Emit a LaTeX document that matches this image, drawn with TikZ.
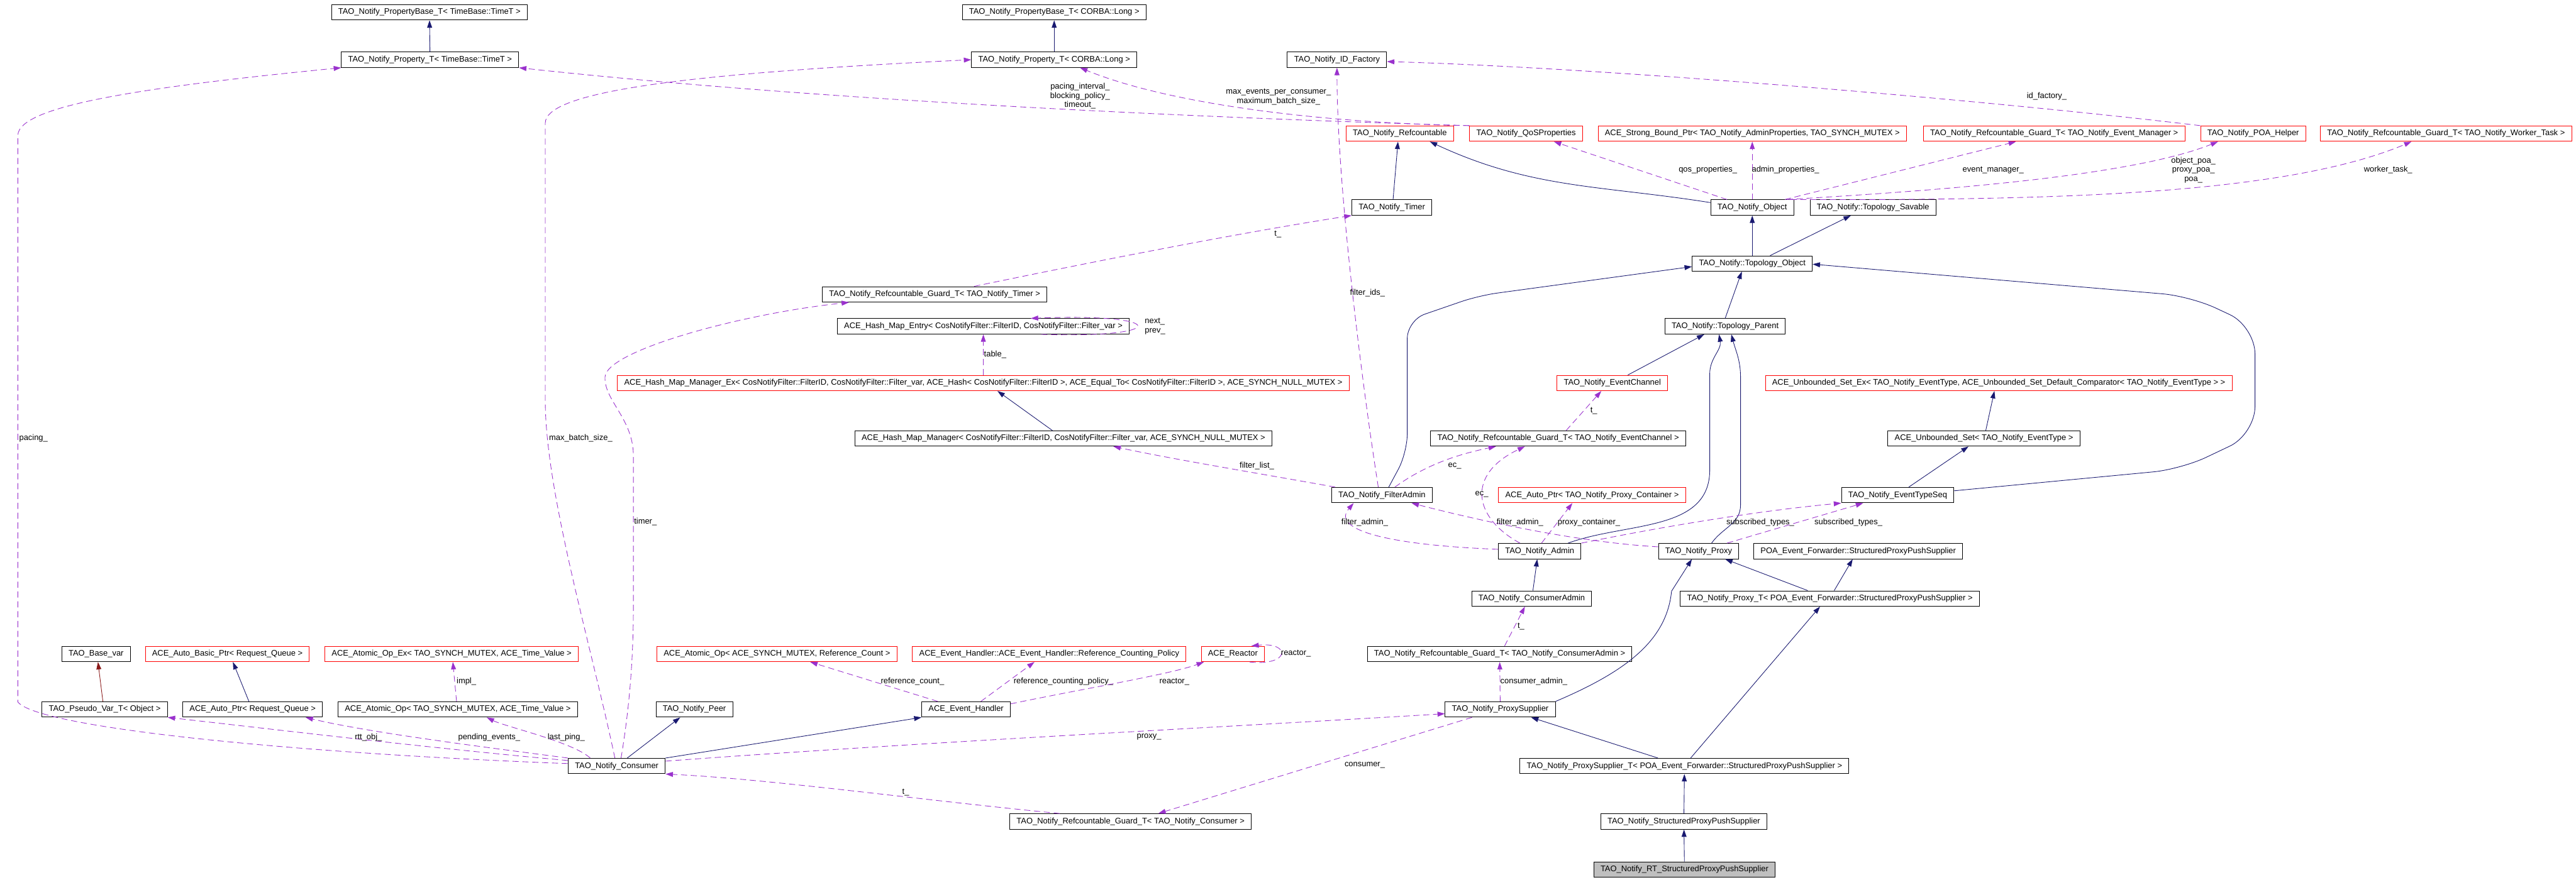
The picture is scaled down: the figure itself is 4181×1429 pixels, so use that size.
\documentclass[tikz,border=0pt]{standalone}
\usepackage{fontspec}
\setmainfont{Liberation Sans}
\usetikzlibrary{arrows.meta}
\definecolor{navyedge}{RGB}{25,25,112}
\definecolor{useedge}{RGB}{154,50,205}
\definecolor{privedge}{RGB}{139,26,26}
\newcommand{\dxfont}{\fontsize{13.2}{15}\selectfont}

\begin{document}
\begin{tikzpicture}[x=1pt, y=-1pt,
  cls/.style={draw=black, line width=1pt, fill=white, minimum height=25pt, inner xsep=11pt, inner ysep=0pt, font=\dxfont},
  undoc/.style={cls, draw=red},
  focus/.style={cls, fill=gray!50},
  inh/.style={draw=navyedge, line width=0.9pt, -{Triangle[length=12pt,width=8pt]}},
  priv/.style={inh, draw=privedge},
  use/.style={draw=useedge, line width=0.9pt, dash pattern=on 10pt off 6pt, -{Triangle[length=12pt,width=8pt]}},
  lbl/.style={font=\dxfont, inner sep=0pt, align=center}]
  \useasboundingbox (0,0) rectangle (4181,1429);

  % Top rows: properties, factory, object members
  \node[cls] (PBtime) at (697,20) {TAO\_Notify\_PropertyBase\_T< TimeBase::TimeT >};
  \node[cls] (Ptime) at (698,97) {TAO\_Notify\_Property\_T< TimeBase::TimeT >};
  \node[cls] (PBlong) at (1711,20) {TAO\_Notify\_PropertyBase\_T< CORBA::Long >};
  \node[cls] (Plong) at (1711,97) {TAO\_Notify\_Property\_T< CORBA::Long >};
  \node[cls] (IDFactory) at (2170,97) {TAO\_Notify\_ID\_Factory};
  \node[undoc] (Refcountable) at (2272,217) {TAO\_Notify\_Refcountable};
  \node[undoc] (QoS) at (2477,217) {TAO\_Notify\_QoSProperties};
  \node[undoc] (StrongBound) at (2844,217) {ACE\_Strong\_Bound\_Ptr< TAO\_Notify\_AdminProperties, TAO\_SYNCH\_MUTEX >};
  \node[undoc] (GuardEM) at (3334,217) {TAO\_Notify\_Refcountable\_Guard\_T< TAO\_Notify\_Event\_Manager >};
  \node[undoc] (POAHelper) at (3657,217) {TAO\_Notify\_POA\_Helper};
  \node[undoc] (GuardWT) at (3970,217) {TAO\_Notify\_Refcountable\_Guard\_T< TAO\_Notify\_Worker\_Task >};
  \node[cls] (Timer) at (2259,337) {TAO\_Notify\_Timer};
  \node[cls] (Object) at (2844,337) {TAO\_Notify\_Object};
  \node[cls] (Savable) at (3040,337) {TAO\_Notify::Topology\_Savable};
  \node[cls] (TopoObject) at (2844,428) {TAO\_Notify::Topology\_Object};

  % Middle rows: hash maps, topology, admins
  \node[cls] (GuardTimer) at (1517,478) {TAO\_Notify\_Refcountable\_Guard\_T< TAO\_Notify\_Timer >};
  \node[cls] (HMEntry) at (1596,530) {ACE\_Hash\_Map\_Entry< CosNotifyFilter::FilterID, CosNotifyFilter::Filter\_var >};
  \node[cls] (TopoParent) at (2800,530) {TAO\_Notify::Topology\_Parent};
  \node[undoc] (HMEx) at (1596,622) {ACE\_Hash\_Map\_Manager\_Ex< CosNotifyFilter::FilterID, CosNotifyFilter::Filter\_var, ACE\_Hash< CosNotifyFilter::FilterID >, ACE\_Equal\_To< CosNotifyFilter::FilterID >, ACE\_SYNCH\_NULL\_MUTEX >};
  \node[undoc] (EventChannel) at (2617,622) {TAO\_Notify\_EventChannel};
  \node[undoc] (USetEx) at (3244,622) {ACE\_Unbounded\_Set\_Ex< TAO\_Notify\_EventType, ACE\_Unbounded\_Set\_Default\_Comparator< TAO\_Notify\_EventType > >};
  \node[cls] (HMMgr) at (1726,712) {ACE\_Hash\_Map\_Manager< CosNotifyFilter::FilterID, CosNotifyFilter::Filter\_var, ACE\_SYNCH\_NULL\_MUTEX >};
  \node[cls] (GuardEC) at (2529,712) {TAO\_Notify\_Refcountable\_Guard\_T< TAO\_Notify\_EventChannel >};
  \node[cls] (USet) at (3220,712) {ACE\_Unbounded\_Set< TAO\_Notify\_EventType >};
  \node[cls] (FilterAdmin) at (2243,804) {TAO\_Notify\_FilterAdmin};
  \node[undoc] (ProxyCont) at (2584,804) {ACE\_Auto\_Ptr< TAO\_Notify\_Proxy\_Container >};
  \node[cls] (EventTypeSeq) at (3080,804) {TAO\_Notify\_EventTypeSeq};
  \node[cls] (Admin) at (2499,895) {TAO\_Notify\_Admin};
  \node[cls] (Proxy) at (2757,895) {TAO\_Notify\_Proxy};
  \node[cls] (POASPPS) at (3016,895) {POA\_Event\_Forwarder::StructuredProxyPushSupplier};
  \node[cls] (ConsumerAdmin) at (2486,972) {TAO\_Notify\_ConsumerAdmin};
  \node[cls] (ProxyT) at (2970,972) {TAO\_Notify\_Proxy\_T< POA\_Event\_Forwarder::StructuredProxyPushSupplier >};

  % Bottom rows: consumer side and supplier chain
  \node[cls] (BaseVar) at (156,1062) {TAO\_Base\_var};
  \node[undoc] (AutoBasic) at (369,1062) {ACE\_Auto\_Basic\_Ptr< Request\_Queue >};
  \node[undoc] (AtomicEx) at (733,1062) {ACE\_Atomic\_Op\_Ex< TAO\_SYNCH\_MUTEX, ACE\_Time\_Value >};
  \node[undoc] (AtomicRC) at (1261,1062) {ACE\_Atomic\_Op< ACE\_SYNCH\_MUTEX, Reference\_Count >};
  \node[undoc] (RCP) at (1703,1062) {ACE\_Event\_Handler::ACE\_Event\_Handler::Reference\_Counting\_Policy};
  \node[undoc] (Reactor) at (2001,1062) {ACE\_Reactor};
  \node[cls] (GuardCA) at (2434,1062) {TAO\_Notify\_Refcountable\_Guard\_T< TAO\_Notify\_ConsumerAdmin >};
  \node[cls] (PseudoVar) at (170,1152) {TAO\_Pseudo\_Var\_T< Object >};
  \node[cls] (AutoPtr) at (410,1152) {ACE\_Auto\_Ptr< Request\_Queue >};
  \node[cls] (AtomicOp) at (743,1152) {ACE\_Atomic\_Op< TAO\_SYNCH\_MUTEX, ACE\_Time\_Value >};
  \node[cls] (Peer) at (1127,1152) {TAO\_Notify\_Peer};
  \node[cls] (EH) at (1568,1152) {ACE\_Event\_Handler};
  \node[cls] (ProxySupplier) at (2435,1152) {TAO\_Notify\_ProxySupplier};
  \node[cls] (Consumer) at (1001,1244) {TAO\_Notify\_Consumer};
  \node[cls] (PST) at (2734,1244) {TAO\_Notify\_ProxySupplier\_T< POA\_Event\_Forwarder::StructuredProxyPushSupplier >};
  \node[cls] (GuardConsumer) at (1835,1334) {TAO\_Notify\_Refcountable\_Guard\_T< TAO\_Notify\_Consumer >};
  \node[cls] (SPPS) at (2733,1334) {TAO\_Notify\_StructuredProxyPushSupplier};
  \node[focus] (RTSPPS) at (2734,1412) {TAO\_Notify\_RT\_StructuredProxyPushSupplier};

  % Inheritance
  \draw[inh] (Ptime) -- (PBtime);
  \draw[inh] (Plong) -- (PBlong);
  \draw[inh] ([xshift=2pt]Timer.north) -- ([xshift=-3pt]Refcountable.south);
  \draw[inh] ([yshift=8pt]Object.west) to[out=171,in=-25] ([xshift=-39pt]Refcountable.south east);
  \draw[inh] (TopoObject) -- (Object);
  \draw[inh] ([xshift=29pt]TopoObject.north) -- ([xshift=-36pt]Savable.south);
  \draw[inh] (TopoParent.north) -- ([xshift=-17pt]TopoObject.south);
  \draw[inh] ([xshift=25pt]EventChannel.north) -- ([xshift=-34pt]TopoParent.south);
  \draw[inh] ([xshift=46pt]Admin.north) to[out=20,in=-90] (2775,763) -- (2775,607) to[out=90,in=-80] ([xshift=-10pt]TopoParent.south);
  \draw[inh] ([xshift=21pt]Proxy.north) to[out=55,in=-90] (2825,820) -- (2825,613) to[out=90,in=-75] ([xshift=10pt]TopoParent.south);
  \draw[inh, rounded corners=30pt] ([xshift=11pt]FilterAdmin.north) -- (2284,735) -- (2284,520) -- (2400,480) -- ([yshift=-5pt]TopoObject.west);
  \draw[inh, rounded corners=45pt] ([yshift=7pt]EventTypeSeq.east) -- (3540,762) -- (3660,705) -- (3660,530) -- (3555,481) -- ([yshift=-1pt]TopoObject.east);
  \draw[inh] ([xshift=18pt]EventTypeSeq.north) -- ([xshift=-25pt]USet.south);
  \draw[inh] ([xshift=3pt]USet.north) -- ([xshift=-7pt]USetEx.south);
  \draw[inh] ([xshift=-18pt]HMMgr.north) -- ([xshift=23pt]HMEx.south);
  \draw[inh] ([xshift=2pt]ConsumerAdmin.north) -- ([xshift=-4pt]Admin.south);
  \draw[inh] (ProxySupplier.north east) .. controls (2640,1090) and (2705,1040) .. (2713,960) -- ([xshift=-11pt]Proxy.south);
  \draw[inh] ([xshift=-36pt]ProxyT.north) -- ([xshift=43pt]Proxy.south);
  \draw[inh] ([xshift=7pt]ProxyT.north) -- ([xshift=-9pt]POASPPS.south);
  \draw[inh] ([xshift=-43pt]PST.north) -- ([xshift=50pt]ProxySupplier.south);
  \draw[inh] ([xshift=10pt]PST.north) -- ([xshift=-16pt]ProxyT.south);
  \draw[inh] (SPPS) -- (PST);
  \draw[inh] (RTSPPS) -- (SPPS);
  \draw[inh] ([xshift=-6pt]AutoPtr.north) -- ([xshift=9pt]AutoBasic.south);
  \draw[priv] ([xshift=-3pt]PseudoVar.north) -- ([xshift=3pt]BaseVar.south);
  \draw[inh] ([xshift=17pt]Consumer.north) -- ([xshift=-23pt]Peer.south);
  \draw[inh] (Consumer.north east) -- (EH.south west);

  % Usage: consumer members
  \draw[use] ([yshift=4pt]Consumer.west) .. controls (450,1222) and (60,1180) .. (29,1140) -- (29,220) .. controls (29,170) and (250,140) .. (Ptime.south west);
  \node[lbl, anchor=west] (lPacing) at (31,712) {pacing\_};
  \draw[use] ([xshift=-3pt]Consumer.north) .. controls (960,1050) and (885,800) .. (885,650) -- (885,200) .. controls (885,150) and (1100,120) .. (Plong.west);
  \node[lbl, anchor=west] (lMaxBatch) at (891,712) {max\_batch\_size\_};
  \draw[use] ([xshift=7pt]Consumer.north) .. controls (1030,1100) and (1028,1000) .. (1028,950) -- (1028,740) .. controls (1028,680) and (980,650) .. (982,612) .. controls (984,570) and (1200,510) .. ([xshift=-139pt]GuardTimer.south);
  \node[lbl, anchor=west] (lTimerM) at (1029,847) {timer\_};
  \draw[use] ([xshift=64pt]GuardTimer.north) .. controls (1750,430) and (2000,380) .. (Timer.south west);
  \node[lbl] (lTTimer) at (2074,380) {t\_};
  \draw[use] ([yshift=9pt]Consumer.west) .. controls (700,1215) and (450,1185) .. (PseudoVar.south east);
  \node[lbl] (lRtt) at (598,1197) {rtt\_obj\_};
  \draw[use] (Consumer.north west) .. controls (800,1215) and (600,1190) .. ([xshift=86pt]AutoPtr.south);
  \node[lbl] (lPending) at (794,1197) {pending\_events\_};
  \draw[use] ([xshift=-43pt]Consumer.north) .. controls (930,1205) and (820,1180) .. ([xshift=47pt]AtomicOp.south);
  \node[lbl] (lLastPing) at (919,1197) {last\_ping\_};
  \draw[use] ([xshift=-2pt]AtomicOp.north) -- ([xshift=2pt]AtomicEx.south);
  \node[lbl, anchor=west] (lImpl) at (741,1107) {impl\_};
  \draw[use] ([yshift=8pt]Consumer.east) .. controls (1500,1205) and (2000,1180) .. ([yshift=-7pt]ProxySupplier.west);
  \node[lbl] (lProxy) at (1865,1197) {proxy\_};
  \draw[use] ([xshift=-115pt]GuardConsumer.north) .. controls (1500,1300) and (1250,1265) .. (Consumer.south east);
  \node[lbl] (lTCons) at (1470,1287) {t\_};

  % Usage: event handler members
  \draw[use] ([xshift=-46pt]EH.north) -- ([xshift=54pt]AtomicRC.south);
  \node[lbl] (lRefCount) at (1481,1107) {reference\_count\_};
  \draw[use] ([xshift=24pt]EH.north) -- ([xshift=-24pt]RCP.south);
  \node[lbl] (lRCP) at (1726,1107) {reference\_counting\_policy\_};
  \draw[use] ([yshift=9pt]EH.east) .. controls (1750,1120) and (1900,1095) .. ([xshift=-47pt]Reactor.south);
  \node[lbl] (lReactor) at (1906,1107) {reactor\_};
  \draw[use] ([xshift=27pt]Reactor.south) .. controls (2095,1082) and (2095,1042) .. ([xshift=30pt]Reactor.north);
  \node[lbl, anchor=west] (lReactorSelf) at (2079,1061) {reactor\_};

  % Usage: QoS, object and factory members
  \draw[use] (QoS.north west) .. controls (1900,190) and (1300,160) .. (Ptime.south east);
  \node[lbl] (lQoSTime) at (1753,156) {pacing\_interval\_\\blocking\_policy\_\\timeout\_};
  \draw[use] (QoS.north west) .. controls (2150,200) and (1900,170) .. ([xshift=42pt]Plong.south);
  \node[lbl] (lQoSLong) at (2075,157) {max\_events\_per\_consumer\_\\maximum\_batch\_size\_};
  \draw[use] ([xshift=-6pt]FilterAdmin.north) .. controls (2210,620) and (2170,300) .. (IDFactory.south);
  \node[lbl, anchor=west] (lFilterIds) at (2191,476) {filter\_ids\_};
  \draw[use] (POAHelper.north west) .. controls (3200,160) and (2600,110) .. ([yshift=-3pt]IDFactory.east);
  \node[lbl] (lIdFactory) at (3322,156) {id\_factory\_};
  \draw[use] ([xshift=-41pt]Object.north) -- ([xshift=45pt]QoS.south);
  \node[lbl] (lQoS) at (2772,276) {qos\_properties\_};
  \draw[use] (Object) -- (StrongBound);
  \node[lbl] (lAdminProps) at (2898,276) {admin\_properties\_};
  \draw[use] ([xshift=53pt]Object.north) -- ([xshift=-62pt]GuardEM.south);
  \node[lbl] (lEventMgr) at (3235,276) {event\_manager\_};
  \draw[use] ([xshift=56pt]Object.north) .. controls (3100,312) and (3450,290) .. ([xshift=-57pt]POAHelper.south);
  \node[lbl] (lPoa) at (3560,276) {object\_poa\_\\proxy\_poa\_\\poa\_};
  \draw[use] ([xshift=62pt]Object.north) .. controls (3300,325) and (3700,320) .. ([xshift=-56pt]GuardWT.south);
  \node[lbl] (lWorker) at (3876,276) {worker\_task\_};

  % Usage: hash map and filter admin members
  \draw[use] (HMEx) -- (HMEntry);
  \node[lbl, anchor=west] (lTable) at (1597,576) {table\_};
  \draw[use] ([xshift=94pt]HMEntry.south) .. controls (1900,550) and (1900,508) .. ([xshift=77pt]HMEntry.north);
  \node[lbl, anchor=west, align=left] (lNextPrev) at (1858,530) {next\_\\prev\_};
  \draw[use] ([xshift=-76pt]FilterAdmin.north) .. controls (2050,770) and (1900,745) .. ([xshift=81pt]HMMgr.south);
  \node[lbl] (lFilterList) at (2040,756) {filter\_list\_};
  \draw[use] ([xshift=13pt]GuardEC.north) -- ([xshift=-18pt]EventChannel.south);
  \node[lbl, anchor=west] (lTEC) at (2581,667) {t\_};
  \draw[use] ([xshift=21pt]FilterAdmin.north) .. controls (2320,750) and (2380,735) .. ([xshift=-101pt]GuardEC.south);
  \node[lbl] (lEcFA) at (2361,757) {ec\_};

  % Usage: admin and proxy members
  \draw[use] ([xshift=-32pt]Admin.north) .. controls (2390,840) and (2380,770) .. ([xshift=-54pt]GuardEC.south);
  \node[lbl] (lEcAdmin) at (2405,803) {ec\_};
  \draw[use] ([yshift=3pt]Admin.west) .. controls (2250,885) and (2160,860) .. ([xshift=-46pt]FilterAdmin.south);
  \node[lbl] (lFAAdmin) at (2215,848) {filter\_admin\_};
  \draw[use] ([yshift=7pt]Proxy.west) .. controls (2550,880) and (2380,840) .. ([xshift=48pt]FilterAdmin.south);
  \node[lbl] (lFAProxy) at (2467,848) {filter\_admin\_};
  \draw[use] ([xshift=3pt]Admin.north) -- ([xshift=-32pt]ProxyCont.south);
  \node[lbl] (lProxyCont) at (2579,848) {proxy\_container\_};
  \draw[use] (Admin.north east) .. controls (2700,855) and (2850,830) .. (EventTypeSeq.south west);
  \node[lbl] (lSubAdmin) at (2857,848) {subscribed\_types\_};
  \draw[use] ([xshift=46pt]Proxy.north) -- ([xshift=-56pt]EventTypeSeq.south);
  \node[lbl] (lSubProxy) at (3000,848) {subscribed\_types\_};
  \draw[use] ([xshift=8pt]GuardCA.north) -- ([xshift=-11pt]ConsumerAdmin.south);
  \node[lbl, anchor=west] (lTCA) at (2463,1017) {t\_};
  \draw[use] (ProxySupplier) -- (GuardCA);
  \node[lbl, anchor=west] (lCAdmin) at (2435,1107) {consumer\_admin\_};
  \draw[use] ([xshift=-46pt]ProxySupplier.south) -- ([xshift=45pt]GuardConsumer.north);
  \node[lbl] (lConsumer) at (2215,1243) {consumer\_};
\end{tikzpicture}
\end{document}
